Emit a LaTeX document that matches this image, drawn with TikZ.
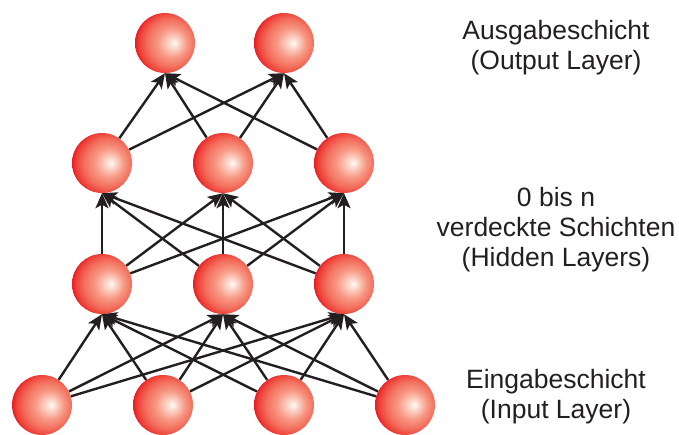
\documentclass[tikz,border=0pt]{standalone}
\usepackage{fontspec}
\setmainfont{Liberation Sans}
\usetikzlibrary{arrows.meta}

% shaded neuron: highlight right of centre, deep red on the left rim,
% softer salmon on the right rim (node border spans 25bp of the shading)
\pgfdeclareradialshading{neuronball}{\pgfpoint{8bp}{0bp}}{%
  rgb(0bp)=(1,0.99,0.98);
  rgb(3bp)=(0.99,0.88,0.84);
  rgb(12bp)=(0.97,0.6,0.52);
  rgb(20bp)=(0.95,0.43,0.36);
  rgb(26bp)=(0.93,0.24,0.21);
  rgb(28.5bp)=(0.92,0.1,0.14);
  rgb(50bp)=(0.92,0.1,0.14)}

\definecolor{inkdark}{RGB}{35,31,32}

\begin{document}
\begin{tikzpicture}[x=1bp,y=-1bp,
  neuron/.style={circle, minimum size=60bp, inner sep=0pt, shading=neuronball},
  link/.style={draw=inkdark, line width=2.4bp,
    -{Stealth[length=15bp,width=13bp,inset=3.5bp]}},
  caption/.style={align=center, text=inkdark,
    font=\fontsize{26.5bp}{30bp}\selectfont}]
  \useasboundingbox (0,0) rectangle (679,435);

  % input layer
  \node[neuron] (i1) at (42,405) {};
  \node[neuron] (i2) at (163,405) {};
  \node[neuron] (i3) at (284,405) {};
  \node[neuron] (i4) at (405,405) {};
  % first hidden layer
  \node[neuron] (a1) at (102,284) {};
  \node[neuron] (a2) at (223,284) {};
  \node[neuron] (a3) at (344,284) {};
  % second hidden layer
  \node[neuron] (b1) at (102,163) {};
  \node[neuron] (b2) at (223,163) {};
  \node[neuron] (b3) at (344,163) {};
  % output layer
  \node[neuron] (o1) at (165,43) {};
  \node[neuron] (o2) at (284,43) {};

  % connections
  \foreach \s in {i1,i2,i3,i4}
    \foreach \t in {a1,a2,a3}
      \draw[link] (\s) -- (\t.south);
  \foreach \s in {a1,a2,a3}
    \foreach \t in {b1,b2,b3}
      \draw[link] (\s) -- (\t.south);
  \foreach \s in {b1,b2,b3}
    \foreach \t in {o1,o2}
      \draw[link] (\s) -- (\t.south);

  % layer captions
  \node[caption] (capout) at (556,48) {Ausgabeschicht\\(Output Layer)};
  \node[caption] (caphid) at (556,230) {0 bis n\\verdeckte Schichten\\(Hidden Layers)};
  \node[caption] (capin) at (556,397) {Eingabeschicht\\(Input Layer)};
\end{tikzpicture}
\end{document}
